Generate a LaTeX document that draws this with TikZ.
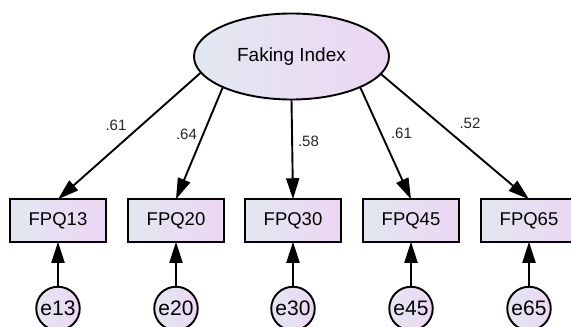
\documentclass[tikz,border=0pt]{standalone}
\usepackage{fontspec}
\setmainfont{Liberation Sans}
\usetikzlibrary{shapes.geometric,arrows.meta}

\definecolor{fillL}{RGB}{226,232,241}
\definecolor{fillR}{RGB}{237,214,243}

\tikzset{
  every node/.style={inner sep=0pt, outer sep=0pt},
  shadefill/.style={draw=black, line width=1.9pt, left color=fillL, right color=fillR},
  latent/.style={shadefill, ellipse, minimum width=195pt, minimum height=86pt,
    font=\fontsize{19}{22}\selectfont},
  observed/.style={shadefill, rectangle, minimum width=96pt, minimum height=42.5pt,
    font=\fontsize{18.5}{21}\selectfont},
  errvar/.style={shadefill, circle, minimum size=43.5pt,
    font=\fontsize{21}{23}\selectfont},
  loading/.style={draw=black, line width=1.9pt, -{Triangle[length=21pt,width=13pt]}},
  weight/.style={font=\fontsize{15}{17}\selectfont, text=black!85}
}

\begin{document}
\begin{tikzpicture}[x=1pt,y=-1pt]
  \useasboundingbox (0,0) rectangle (571,327);

  % latent factor
  \node[latent] (F) at (291.5,56.5) {Faking Index};

  % indicators
  \node[observed] (Q13) at (58,220.5)  {FPQ13};
  \node[observed] (Q20) at (176,220.5) {FPQ20};
  \node[observed] (Q30) at (293,220.5) {FPQ30};
  \node[observed] (Q45) at (411,220.5) {FPQ45};
  \node[observed] (Q65) at (529,220.5) {FPQ65};

  % error terms
  \node[errvar] (e13) at (58,308.5)  {e13};
  \node[errvar] (e20) at (176,308.5) {e20};
  \node[errvar] (e30) at (293,308.5) {e30};
  \node[errvar] (e45) at (411,308.5) {e45};
  \node[errvar] (e65) at (529,308.5) {e65};

  % error paths
  \draw[loading] (e13.north) -- (Q13.south);
  \draw[loading] (e20.north) -- (Q20.south);
  \draw[loading] (e30.north) -- (Q30.south);
  \draw[loading] (e45.north) -- (Q45.south);
  \draw[loading] (e65.north) -- (Q65.south);

  % factor loadings
  \draw[loading] (F.190.2) -- (Q13.north);
  \draw[loading] (F.204.7) -- (Q20.north);
  \draw[loading] (F.south) -- (Q30.north);
  \draw[loading] (F.336.6) -- (Q45.north);
  \draw[loading] (F.349.8) -- (Q65.north);

  \node[weight] (w13) at (116,125) {.61};
  \node[weight] (w20) at (186.5,134.5) {.64};
  \node[weight] (w30) at (308.5,141.5) {.58};
  \node[weight] (w45) at (401.5,133) {.61};
  \node[weight] (w65) at (470,123.5) {.52};
\end{tikzpicture}
\end{document}
